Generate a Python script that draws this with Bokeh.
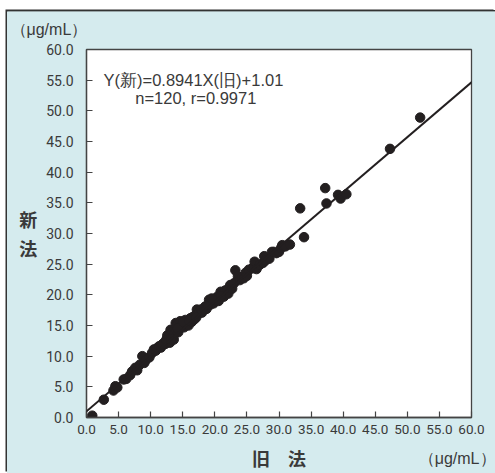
from bokeh.plotting import figure
from bokeh.models import Range1d, FixedTicker, Label, Slope, NumeralTickFormatter, Title
from bokeh.embed import file_html
from bokeh.resources import INLINE

# ---- data ----
old_x = [0.9, 2.7, 4.2, 4.5, 4.8, 5.8, 6.2, 6.8, 7.1, 7.6, 7.9, 8.3, 8.7, 9.0, 9.2, 9.8,
         10.2, 10.5, 10.8, 11.0, 11.3, 11.6, 12.0, 12.3, 12.6, 12.6, 12.8, 13.0, 13.1, 13.1,
         13.3, 13.4, 13.6, 13.7, 13.9, 14.0, 14.1, 14.3, 14.5, 14.6, 14.8, 15.0, 15.2, 15.4,
         15.5, 15.7, 15.9, 16.2, 16.4, 16.6, 16.8, 17.0, 17.2, 17.4, 17.6, 17.8, 18.0, 18.3,
         18.5, 18.7, 19.1, 19.3, 19.6, 19.8, 20.0, 20.4, 20.6, 20.9, 21.2, 21.4, 21.6, 21.9,
         22.1, 22.4, 22.7, 23.0, 23.2, 23.6, 23.9, 24.2, 24.5, 24.8, 25.0, 25.3, 25.8, 26.1,
         26.2, 26.5, 27.0, 27.5, 27.7, 27.9, 28.5, 28.9, 29.2, 29.6, 30.0, 30.3, 30.5, 31.0,
         31.7, 33.3, 33.9, 37.2, 37.4, 39.2, 39.6, 40.5, 47.3, 52.0,
         11.8, 12.4, 13.2, 14.2, 15.1, 16.0, 17.1, 18.9, 19.5, 21.0]
new_y = [0.3, 2.9, 4.4, 5.1, 4.9, 6.2, 6.3, 6.9, 7.5, 8.1, 7.7, 8.6, 10.0, 8.9, 9.3, 9.8,
         10.5, 11.1, 10.9, 11.3, 11.6, 11.4, 12.1, 12.0, 13.0, 13.4, 12.5, 12.2, 13.5, 14.3,
         13.0, 14.0, 12.7, 13.6, 15.4, 14.2, 15.1, 13.9, 14.6, 15.7, 14.9, 15.2, 14.7, 15.9,
         15.3, 15.4, 15.0, 16.2, 15.6, 16.4, 16.0, 16.7, 17.6, 16.9, 17.2, 17.6, 17.1, 17.8,
         18.1, 17.7, 19.2, 18.4, 18.9, 18.6, 19.1, 19.7, 19.0, 20.5, 20.1, 19.7, 20.7, 20.8,
         20.2, 21.6, 21.0, 21.9, 24.0, 23.0, 22.4, 22.8, 22.7, 23.6, 23.1, 24.1, 24.3, 24.6,
         25.4, 24.2, 24.9, 25.2, 26.3, 25.6, 25.9, 27.0, 27.0, 26.8, 27.0, 27.6, 28.1, 27.9,
         28.2, 34.1, 29.4, 37.4, 34.9, 36.3, 35.7, 36.4, 43.8, 48.9,
         11.9, 12.6, 12.7, 14.5, 15.6, 15.8, 16.3, 18.3, 19.4, 19.8]
slope = 0.8941
intercept = 1.01
ticks = [0, 5, 10, 15, 20, 25, 30, 35, 40, 45, 50, 55, 60]
eq_text = "Y(新)=0.8941X(旧)+1.01"
stat_text = "n=120, r=0.9971"
unit_text = "（μg/mL）"
x_title = "旧　法"
y_title = "新\n法"

PANEL = "#d5ebee"
INK = "#231f20"
GREY = "#3a3a3a"

p = figure(width=488, height=462, margin=(11, 0, 0, 7),
           x_range=Range1d(0, 60), y_range=Range1d(0, 60),
           output_backend="svg", toolbar_location=None,
           min_border_left=79, min_border_right=24, min_border_top=38, min_border_bottom=55)
p.styles = {"box-shadow": "-1.5px -1.5px 0 0 #333333", "vertical-align": "top"}
p.border_fill_color = PANEL
p.background_fill_color = "white"
p.outline_line_color = "#444444"
p.outline_line_width = 1.3
p.xgrid.visible = False
p.ygrid.visible = False

for ax in (p.xaxis[0], p.yaxis[0]):
    ax.ticker = FixedTicker(ticks=ticks)
    ax.formatter = NumeralTickFormatter(format="0.0")
    ax.major_tick_in = 6
    ax.major_tick_out = 0
    ax.minor_tick_line_color = None
    ax.axis_line_color = "#444444"
    ax.axis_line_width = 1.3
    ax.major_tick_line_color = "#444444"
    ax.major_tick_line_width = 1.2
    ax.major_label_text_font = "Roboto"
    ax.major_label_text_color = GREY
    ax.axis_label_text_font = "Noto Sans CJK JP"
    ax.axis_label_text_font_style = "bold"
    ax.axis_label_text_color = GREY
    ax.axis_label_text_font_size = "18px"
p.xaxis.major_label_text_font_size = "13.5px"
p.yaxis.major_label_text_font_size = "14px"
p.xaxis.major_label_standoff = 7
p.yaxis.major_label_standoff = 13
p.xaxis.axis_label = x_title
p.xaxis.axis_label_standoff = 8
p.yaxis.axis_label = y_title
p.yaxis.axis_label_orientation = "horizontal"
p.yaxis.axis_label_text_line_height = 1.1
p.yaxis.axis_label_standoff = 6

p.add_layout(Slope(gradient=slope, y_intercept=intercept, line_color=INK, line_width=2))
p.scatter(old_x, new_y, size=9.5, color=INK)

def lab(x, y, t):
    p.add_layout(Label(x=x, y=y, text=t, text_font="Liberation Sans", text_font_size="16.5px",
                       text_color=GREY, text_align="left", text_baseline="middle"))

lab(2.65, 55.0, eq_text)
lab(7.6, 52.1, stat_text)

top_unit = Title(text=unit_text + "\n", align="left", offset=-76, vertical_align="top", standoff=-14,
                 text_font="Liberation Sans", text_font_size="16px", text_font_style="normal",
                 text_color=GREY)
p.add_layout(top_unit, "above")
bottom_unit = Title(text=unit_text, align="right", offset=-24, vertical_align="top", standoff=-48,
                    text_font="Liberation Sans", text_font_size="16px", text_font_style="normal",
                    text_color=GREY)
p.add_layout(bottom_unit, "below")

try:
    from bokeh.core.templates import get_env
    tmpl = get_env().from_string(
        '{% extends "file.html" %}{% block postamble %}'
        '<style>html, body { margin: 0; padding: 0; overflow: hidden; '
        'background: linear-gradient(#333333, #333333) 5.5px 9.5px / 100% 1.5px no-repeat, '
        'linear-gradient(#d5ebee, #d5ebee) 7px 11px / 100% 100% no-repeat, white; }</style>'
        '{% endblock %}')
    open("out.html", "w").write(file_html(p, INLINE, template=tmpl))
except Exception:
    open("out.html", "w").write(file_html(p, INLINE))
